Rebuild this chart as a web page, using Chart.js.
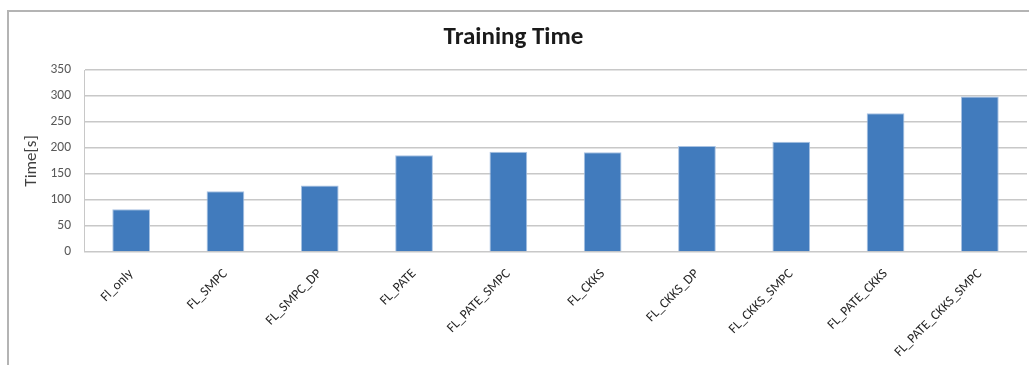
<!DOCTYPE html>
<html>
<head>
<meta charset="utf-8">
<title>Training Time</title>
<script src="https://cdn.jsdelivr.net/npm/chart.js@4/dist/chart.umd.min.js"></script>
<style>
  html, body { margin: 0; padding: 0; background: #fff; overflow: hidden; }
  #wrap { position: absolute; left: 0; top: 0; width: 1029px; height: 365px; }
  /* grey chart frame, only top and left edges fall inside the window */
  #frame {
    position: absolute; left: 7px; top: 10px; width: 1040px; height: 380px;
    border-top: 2px solid #b4b4b4; border-left: 2px solid #b4b4b4;
    box-sizing: border-box; pointer-events: none;
  }
</style>
</head>
<body>
<div id="wrap">
  <canvas id="chart" width="1029" height="365"></canvas>
</div>
<div id="frame"></div>
<script>
const methods = [
  "Fl_only", "FL_SMPC", "FL_SMPC_DP", "FL_PATE", "FL_PATE_SMPC",
  "FL_CKKS", "FL_CKKS_DP", "FL_CKKS_SMPC", "FL_PATE_CKKS", "FL_PATE_CKKS_SMPC"
];
const trainingTime = [82, 117, 128, 186, 193, 192, 204, 212, 267, 299];
const yTicks = [0, 50, 100, 150, 200, 250, 300, 350];

const labelFont = "Carlito, 'Liberation Sans Narrow', 'Open Sans', sans-serif";

new Chart(document.getElementById("chart"), {
  type: "bar",
  data: {
    labels: methods,
    datasets: [{
      label: "Time[s]",
      data: trainingTime,
      backgroundColor: "#417bbd",
      borderColor: "#a8c2e2",
      borderWidth: 1,
      barPercentage: 0.4,
      categoryPercentage: 1.0,
    }],
  },
  options: {
    responsive: false,
    animation: false,
    layout: { padding: { left: 0, right: 2, top: 0, bottom: 0 } },
    plugins: {
      legend: { display: false },
      tooltip: { enabled: false },
      title: {
        display: true,
        text: "Training Time",
        color: "#1a1a1a",
        font: { family: labelFont, size: 25, weight: "bold", lineHeight: 1.2 },
        padding: { top: 23, bottom: 17 },
      },
    },
    scales: {
      x: {
        grid: { display: false },
        border: { display: false },
        ticks: {
          color: "#262626",
          font: { family: labelFont, size: 13.5 },
          maxRotation: 45,
          minRotation: 45,
          padding: 6,
          autoSkip: false,
        },
        afterFit: (scale) => { scale.height = 113; },
      },
      y: {
        min: 0,
        max: 350,
        afterBuildTicks: (scale) => { scale.ticks = yTicks.map(v => ({ value: v })); },
        grid: { color: "#c8c8c8", lineWidth: 1.5, drawTicks: false },
        border: { display: true, color: "#c8c8c8", width: 1 },
        ticks: {
          color: "#595959",
          font: { family: labelFont, size: 13.5 },
          padding: 13,
        },
        title: {
          display: true,
          text: "Time[s]",
          color: "#404040",
          font: { family: labelFont, size: 17 },
          padding: { top: 22, bottom: 4 },
        },
        afterFit: (scale) => { scale.width = 84; },
      },
    },
  },
});
</script>
</body>
</html>
